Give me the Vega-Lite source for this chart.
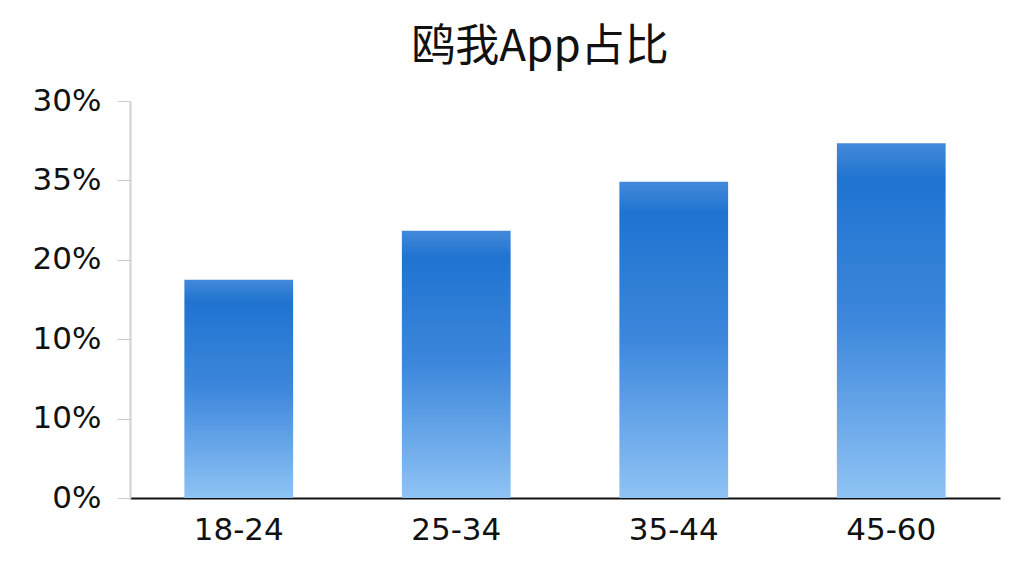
{
  "$schema": "https://vega.github.io/schema/vega-lite/v6.json",
  "width": 870,
  "height": 397,
  "autosize": {"type": "none"},
  "padding": {"left": 130, "top": 101, "right": 24, "bottom": 78},
  "background": "#ffffff",
  "title": {
    "text": "鸥我App占比",
    "font": "Noto Sans CJK SC",
    "fontSize": 44,
    "fontWeight": "normal",
    "color": "#111111",
    "anchor": "middle",
    "dx": -25,
    "offset": 15
  },
  "data": {
    "values": [
      {"age": "18-24", "share": 16.5},
      {"age": "25-34", "share": 20.2},
      {"age": "35-44", "share": 23.9},
      {"age": "45-60", "share": 26.8}
    ]
  },
  "mark": {
    "type": "bar",
    "color": {
      "gradient": "linear",
      "x1": 0, "y1": 0, "x2": 0, "y2": 1,
      "stops": [
        {"offset": 0, "color": "#4489da"},
        {"offset": 0.1, "color": "#1f74d0"},
        {"offset": 0.5, "color": "#3d87dc"},
        {"offset": 1, "color": "#8fc3f4"}
      ]
    }
  },
  "encoding": {
    "x": {
      "field": "age",
      "type": "nominal",
      "sort": null,
      "scale": {"paddingInner": 0.5, "paddingOuter": 0.25},
      "axis": {
        "title": null,
        "labelAngle": 0,
        "labelFont": "DejaVu Sans",
        "labelFontSize": 31,
        "labelColor": "#111111",
        "labelPadding": 17,
        "ticks": false,
        "domainColor": "#111111",
        "domainWidth": 2
      }
    },
    "y": {
      "field": "share",
      "type": "quantitative",
      "scale": {"domain": [0, 30], "nice": false},
      "axis": {
        "title": null,
        "values": [0, 6, 12, 18, 24, 30],
        "labelExpr": "datum.value == 0 ? '0%' : datum.value == 6 ? '10%' : datum.value == 12 ? '10%' : datum.value == 18 ? '20%' : datum.value == 24 ? '35%' : '30%'",
        "labelFont": "DejaVu Sans",
        "labelFontSize": 31,
        "labelColor": "#111111",
        "labelPadding": 16,
        "tickSize": 13,
        "tickColor": "#cccccc",
        "domainColor": "#d0d0d0",
        "domainWidth": 2,
        "grid": false
      }
    }
  },
  "config": {"view": {"stroke": null}}
}
